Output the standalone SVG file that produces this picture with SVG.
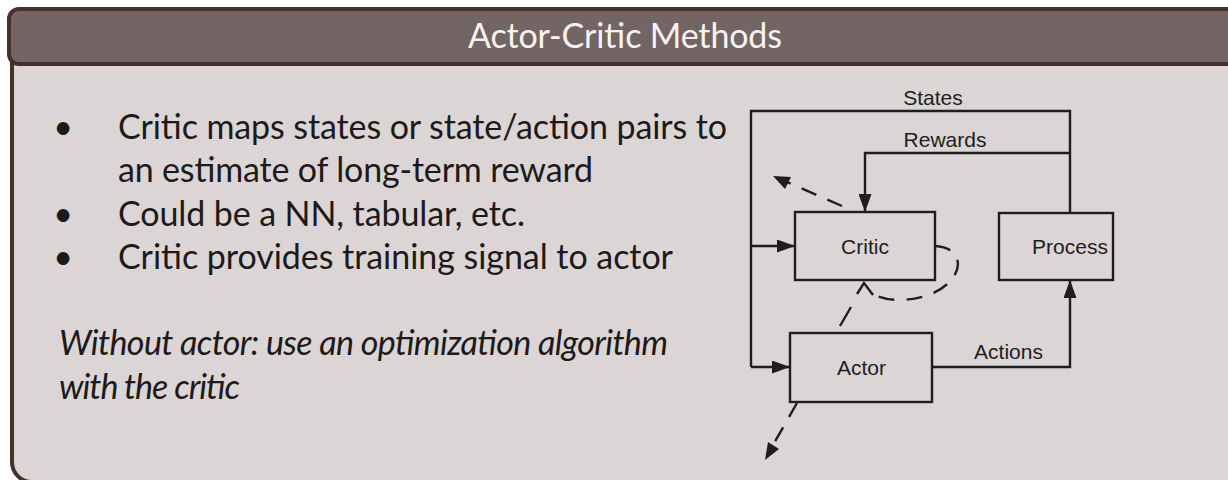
<svg xmlns="http://www.w3.org/2000/svg" width="1228" height="480" viewBox="0 0 1228 480">
  <style>
    .panel { fill: #dbd5d5; stroke: #45312b; stroke-width: 4; }
    .header { fill: #736563; stroke: #45312b; stroke-width: 4; }
    .title { font-family: Lato, "Noto Sans", sans-serif; font-size: 34px; fill: #f7f3f3; }
    .body { font-family: Lato, "Noto Sans", sans-serif; font-size: 34px; fill: #1d1a1a; }
    .note { font-family: Lato, "Noto Sans", sans-serif; font-size: 34px; font-style: italic; fill: #1d1a1a; }
    .box { fill: none; stroke: #1e1e1e; stroke-width: 2.4; }
    .wire { fill: none; stroke: #1e1e1e; stroke-width: 2.4; }
    .dash { fill: none; stroke: #1e1e1e; stroke-width: 2.4; stroke-dasharray: 16 12; }
    .lbl { font-family: "Liberation Sans", Arial, sans-serif; font-size: 21px; fill: #1e1e1e; }
  </style>
  <defs>
    <marker id="arrow" viewBox="0 0 18 13" markerWidth="18" markerHeight="13" refX="18" refY="6.5" orient="auto" markerUnits="userSpaceOnUse">
      <path d="M0,0 L18,6.5 L0,13 z" fill="#1e1e1e"/>
    </marker>
  </defs>

  <!-- slide panel -->
  <rect class="panel" x="12" y="40" width="1300" height="442" rx="20"/>
  <rect class="header" x="9" y="9" width="1300" height="55" rx="10"/>
  <text class="title" x="625" y="48" text-anchor="middle" textLength="314" lengthAdjust="spacing">Actor-Critic Methods</text>

  <!-- bullet list -->
  <g id="bullets">
    <text class="body" x="63" y="139" text-anchor="middle">•</text>
    <text class="body" x="118" y="139" textLength="609" lengthAdjust="spacing">Critic maps states or state/action pairs to</text>
    <text class="body" x="118" y="182" textLength="475" lengthAdjust="spacing">an estimate of long-term reward</text>
    <text class="body" x="63" y="226" text-anchor="middle">•</text>
    <text class="body" x="118" y="226" textLength="407" lengthAdjust="spacing">Could be a NN, tabular, etc.</text>
    <text class="body" x="63" y="269" text-anchor="middle">•</text>
    <text class="body" x="118" y="269" textLength="555" lengthAdjust="spacing">Critic provides training signal to actor</text>
  </g>
  <g id="note">
    <text class="note" x="59" y="355" textLength="609" lengthAdjust="spacing">Without actor: use an optimization algorithm</text>
    <text class="note" x="59" y="399" textLength="181" lengthAdjust="spacing">with the critic</text>
  </g>

  <!-- blocks -->
  <g id="critic">
    <rect class="box" x="795" y="212" width="140" height="68"/>
    <text class="lbl" x="865" y="253.5" text-anchor="middle">Critic</text>
  </g>
  <g id="process">
    <rect class="box" x="999" y="213" width="114" height="67"/>
    <text class="lbl" x="1070" y="253.5" text-anchor="middle">Process</text>
  </g>
  <g id="actor">
    <rect class="box" x="790" y="333" width="142" height="69"/>
    <text class="lbl" x="861.5" y="375" text-anchor="middle">Actor</text>
  </g>

  <!-- signal paths -->
  <g id="connectors">
    <!-- states: process up, across the top, down the left side into both blocks -->
    <path class="wire" d="M1070,213 V111 H751 V367"/>
    <line class="wire" x1="751" y1="246" x2="795" y2="246" marker-end="url(#arrow)"/>
    <line class="wire" x1="751" y1="367" x2="790" y2="367" marker-end="url(#arrow)"/>
    <text class="lbl" x="933" y="105" text-anchor="middle">States</text>
    <!-- rewards into the critic -->
    <path class="wire" d="M1070,153 H865 V212" marker-end="url(#arrow)"/>
    <text class="lbl" x="945" y="147" text-anchor="middle">Rewards</text>
    <!-- actions into the process -->
    <path class="wire" d="M932,367 H1070 V280" marker-end="url(#arrow)"/>
    <text class="lbl" x="1008.5" y="359" text-anchor="middle">Actions</text>

    <!-- learning signals (dashed) -->
    <path class="dash" d="M842,206 L787,182"/>
    <path d="M773,176 L791,177 L785,189 z" fill="#1e1e1e"/>
    <path class="dash" d="M797,403 L773,445"/>
    <path d="M765,460 L768,442 L779,449 z" fill="#1e1e1e"/>
    <path class="dash" d="M935,246 C975,248 962,298 900,300 C885,300 875,296 870,292"/>
    <path class="wire" d="M857,294 L864,283 L873,295"/>
    <path class="wire" d="M840,326 L851,307"/>
  </g>
</svg>
